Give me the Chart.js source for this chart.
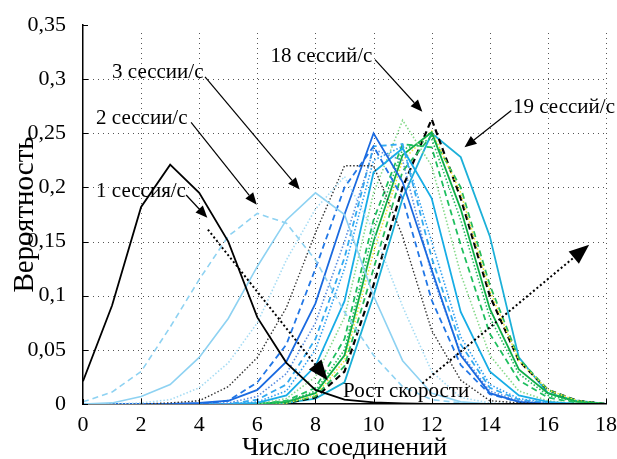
<!DOCTYPE html>
<html lang="ru">
<head>
<meta charset="utf-8">
<script src="https://cdn.jsdelivr.net/npm/chart.js@4.4.1/dist/chart.umd.min.js"></script>
<style>
  html, body { margin: 0; padding: 0; background: #fff; }
</style>
</head>
<body>
<canvas id="chart" width="617" height="459"></canvas>
<script>
// Число соединений (ось X)
const connections = [0, 1, 2, 3, 4, 5, 6, 7, 8, 9, 10, 11, 12, 13, 14, 15, 16, 17, 18];

// Распределения вероятности для интенсивности 1..19 сессий/с
const s1  = [0.021, 0.091, 0.182, 0.221, 0.195, 0.150, 0.080, 0.038, 0.013, 0.004, 0.0015, 0.0005, 0, 0, 0, 0, 0, 0, 0];
const s2  = [0.002, 0.011, 0.030, 0.071, 0.115, 0.155, 0.176, 0.167, 0.133, 0.085, 0.045, 0.016, 0.004, 0.001, 0, 0, 0, 0, 0];
const s3  = [0, 0.001, 0.007, 0.018, 0.043, 0.079, 0.127, 0.170, 0.195, 0.175, 0.100, 0.040, 0.010, 0.002, 0, 0, 0, 0, 0];
const s4  = [0, 0, 0.001, 0.004, 0.015, 0.038, 0.075, 0.133, 0.180, 0.210, 0.160, 0.090, 0.030, 0.006, 0.001, 0, 0, 0, 0];
const s5  = [0, 0, 0, 0.001, 0.003, 0.016, 0.043, 0.089, 0.158, 0.220, 0.220, 0.155, 0.068, 0.022, 0.003, 0.001, 0, 0, 0];
const s6  = [0, 0, 0, 0, 0.001, 0.003, 0.013, 0.039, 0.093, 0.175, 0.250, 0.205, 0.124, 0.045, 0.010, 0.002, 0, 0, 0];
const s7  = [0, 0, 0, 0, 0, 0.003, 0.020, 0.055, 0.125, 0.200, 0.238, 0.190, 0.096, 0.036, 0.009, 0.002, 0, 0, 0];
const s8  = [0, 0, 0, 0, 0, 0.001, 0.007, 0.028, 0.075, 0.150, 0.235, 0.225, 0.120, 0.047, 0.012, 0.003, 0, 0, 0];
const s9  = [0, 0, 0, 0, 0, 0, 0.004, 0.018, 0.060, 0.135, 0.238, 0.240, 0.135, 0.055, 0.015, 0.004, 0.001, 0, 0];
const s10 = [0, 0, 0, 0, 0, 0, 0.002, 0.012, 0.050, 0.125, 0.225, 0.238, 0.150, 0.062, 0.018, 0.005, 0.001, 0, 0];
const s11 = [0, 0, 0, 0, 0, 0, 0.001, 0.008, 0.035, 0.095, 0.214, 0.236, 0.190, 0.085, 0.030, 0.008, 0.002, 0, 0];
const s12 = [0, 0, 0, 0, 0, 0, 0, 0.005, 0.025, 0.080, 0.195, 0.262, 0.220, 0.120, 0.045, 0.012, 0.003, 0, 0];
const s13 = [0, 0, 0, 0, 0, 0, 0, 0.003, 0.015, 0.060, 0.170, 0.240, 0.237, 0.147, 0.065, 0.022, 0.006, 0.001, 0];
const s14 = [0, 0, 0, 0, 0, 0, 0, 0.002, 0.012, 0.050, 0.160, 0.235, 0.245, 0.170, 0.080, 0.028, 0.008, 0.002, 0];
const s15 = [0, 0, 0, 0, 0, 0, 0, 0.002, 0.010, 0.045, 0.150, 0.230, 0.251, 0.180, 0.088, 0.032, 0.010, 0.002, 0];
const s16 = [0, 0, 0, 0, 0, 0, 0, 0.001, 0.008, 0.040, 0.140, 0.225, 0.252, 0.195, 0.105, 0.040, 0.013, 0.003, 0];
const s17 = [0, 0, 0, 0, 0, 0, 0, 0.001, 0.007, 0.035, 0.125, 0.215, 0.248, 0.200, 0.110, 0.042, 0.013, 0.003, 0];
const s18 = [0, 0, 0, 0, 0, 0, 0, 0.001, 0.006, 0.030, 0.110, 0.200, 0.263, 0.190, 0.100, 0.040, 0.013, 0.003, 0];
const s19 = [0, 0, 0, 0, 0, 0, 0, 0.001, 0.005, 0.020, 0.100, 0.190, 0.250, 0.228, 0.155, 0.043, 0.010, 0.003, 0];

const series = [s1, s2, s3, s4, s5, s6, s7, s8, s9, s10, s11, s12, s13, s14, s15, s16, s17, s18, s19];

// Линии: цвет и тип штриха для каждой кривой
const SOLID = [], DASH = [6, 4], DOT = [1.5, 2];
const lineStyles = [
  { color: '#000000', dash: SOLID, width: 1.8 },
  { color: '#8ed2f2', dash: DASH,  width: 1.6 },
  { color: '#8ed2f2', dash: SOLID, width: 1.6 },
  { color: '#a6dcf4', dash: DOT,   width: 1.6 },
  { color: '#333333', dash: DOT,   width: 1.4 },
  { color: '#1a6ae0', dash: SOLID, width: 1.8 },
  { color: '#2277e6', dash: DASH,  width: 1.8 },
  { color: '#5b8ee0', dash: DOT,   width: 1.6 },
  { color: '#33aaf0', dash: DASH,  width: 1.8 },
  { color: '#2f9ff0', dash: DOT,   width: 1.6 },
  { color: '#17ade6', dash: SOLID, width: 1.8 },
  { color: '#86d98a', dash: DOT,   width: 1.6 },
  { color: '#1fbf5f', dash: DASH,  width: 1.8 },
  { color: '#22b85a', dash: DOT,   width: 1.6 },
  { color: '#0fae48', dash: SOLID, width: 1.8 },
  { color: '#eee23a', dash: DOT,   width: 1.6 },
  { color: '#25bb5d', dash: DASH,  width: 1.8 },
  { color: '#000000', dash: DASH,  width: 2.2 },
  { color: '#1cb0d8', dash: SOLID, width: 1.8 }
];

// Подписи со стрелками (в координатах данных)
const callouts = [
  { text: '1 сессия/с',  at: [0.45, 0.196],  from: [3.55, 0.193],  to: [4.28, 0.172] },
  { text: '2 сессии/с',  at: [0.45, 0.264],  from: [3.72, 0.260],  to: [5.98, 0.184] },
  { text: '3 сессии/с',  at: [1.0, 0.306],   from: [4.20, 0.302],  to: [7.46, 0.198] },
  { text: '18 сессий/с', at: [6.45, 0.321],  from: [10.05, 0.318], to: [11.68, 0.270] },
  { text: '19 сессий/с', at: [14.8, 0.274],  from: [14.74, 0.271], to: [13.13, 0.237] }
];
const speedLabel = { text: 'Рост скорости', at: [8.95, 0.012] };
const speedArrows = [
  { from: [4.30, 0.161], to: [8.42, 0.022] },
  { from: [11.68, 0.019], to: [17.42, 0.147] }
];

const yGrid = [0.05, 0.1, 0.15, 0.2, 0.25, 0.3];
const xGrid = [2, 4, 6, 8, 10, 12, 14, 16, 18];

const FONT = '"Liberation Serif", "Times New Roman", serif';

function arrow(ctx, x1, y1, x2, y2, headLen, headHalf, dashed, lw) {
  const ang = Math.atan2(y2 - y1, x2 - x1);
  const bx = x2 - headLen * Math.cos(ang);
  const by = y2 - headLen * Math.sin(ang);
  ctx.save();
  ctx.strokeStyle = '#000';
  ctx.fillStyle = '#000';
  ctx.lineWidth = lw;
  ctx.setLineDash(dashed ? [2, 2.5] : []);
  ctx.beginPath();
  ctx.moveTo(x1, y1);
  ctx.lineTo(bx, by);
  ctx.stroke();
  ctx.setLineDash([]);
  ctx.beginPath();
  ctx.moveTo(x2, y2);
  ctx.lineTo(bx - headHalf * Math.sin(ang), by + headHalf * Math.cos(ang));
  ctx.lineTo(bx + headHalf * Math.sin(ang), by - headHalf * Math.cos(ang));
  ctx.closePath();
  ctx.fill();
  ctx.restore();
}

const decorPlugin = {
  id: 'decor',
  // точечная сетка под кривыми
  beforeDatasetsDraw(chart) {
    const { ctx, chartArea: area, scales: { x, y } } = chart;
    ctx.save();
    ctx.strokeStyle = '#555';
    ctx.lineWidth = 1;
    ctx.setLineDash([1, 4]);
    yGrid.forEach(v => {
      const yy = Math.round(y.getPixelForValue(v)) + 0.5;
      ctx.beginPath(); ctx.moveTo(area.left, yy); ctx.lineTo(area.right, yy); ctx.stroke();
    });
    xGrid.forEach(v => {
      const xx = Math.round(x.getPixelForValue(v)) + 0.5;
      ctx.beginPath(); ctx.moveTo(xx, area.bottom); ctx.lineTo(xx, area.top + 6); ctx.stroke();
    });
    ctx.restore();
  },
  afterDraw(chart) {
    const { ctx, chartArea: area, scales: { x, y } } = chart;
    const px = p => [x.getPixelForValue(p[0]), y.getPixelForValue(p[1])];
    ctx.save();

    // короткие засечки внутрь области графика
    ctx.strokeStyle = '#000';
    ctx.lineWidth = 1;
    y.ticks.forEach(t => {
      const yy = Math.round(y.getPixelForValue(t.value)) + 0.5;
      ctx.beginPath(); ctx.moveTo(area.left, yy); ctx.lineTo(area.left + 5, yy); ctx.stroke();
    });
    x.ticks.forEach(t => {
      const xx = Math.round(x.getPixelForValue(t.value)) + 0.5;
      ctx.beginPath(); ctx.moveTo(xx, area.bottom); ctx.lineTo(xx, area.bottom - 5); ctx.stroke();
    });

    ctx.font = '21px ' + FONT;
    ctx.fillStyle = '#000';
    ctx.textBaseline = 'middle';
    ctx.textAlign = 'left';
    callouts.forEach(c => {
      const [tx, ty] = px(c.at);
      ctx.fillText(c.text, tx, ty);
      const [ax, ay] = px(c.from);
      const [bx, by] = px(c.to);
      arrow(ctx, ax, ay, bx, by, 12, 5, false, 1.2);
    });

    speedArrows.forEach(a => {
      const [ax, ay] = px(a.from);
      const [bx, by] = px(a.to);
      arrow(ctx, ax, ay, bx, by, 20, 8, true, 2);
    });
    const [sx, sy] = px(speedLabel.at);
    ctx.fillText(speedLabel.text, sx, sy);

    ctx.restore();
  }
};

const fmt = v => {
  const s = Number(v).toFixed(2).replace(/0+$/, '').replace(/\.$/, '');
  return s.replace('.', ',');
};

new Chart(document.getElementById('chart'), {
  type: 'line',
  data: {
    datasets: series.map((vals, i) => ({
      label: (i + 1) + ' сессий/с',
      data: vals.map((v, k) => ({ x: connections[k], y: v })),
      borderColor: lineStyles[i].color,
      borderDash: lineStyles[i].dash,
      borderWidth: lineStyles[i].width,
      pointRadius: 0,
      tension: 0,
      fill: false
    }))
  },
  options: {
    responsive: false,
    animation: false,
    devicePixelRatio: 1,
    layout: { padding: { top: 25, right: 10, left: 0, bottom: 0 } },
    plugins: { legend: { display: false }, tooltip: { enabled: false } },
    scales: {
      x: {
        type: 'linear',
        min: 0,
        max: 18,
        afterFit: s => { s.height = 55; },
        ticks: { stepSize: 2, padding: 0, color: '#000', font: { family: FONT, size: 22 } },
        grid: { display: false },
        border: { display: true, color: '#000', width: 1.5 },
        title: {
          display: true,
          text: 'Число соединений',
          color: '#000',
          font: { family: FONT, size: 26, lineHeight: 0.8 },
          padding: { top: 0, bottom: 0 }
        }
      },
      y: {
        min: 0,
        max: 0.35,
        afterFit: s => { s.width = 83; },
        ticks: {
          stepSize: 0.05,
          padding: 9,
          color: '#000',
          font: { family: FONT, size: 22 },
          callback: v => fmt(v)
        },
        grid: { display: false },
        border: { display: true, color: '#000', width: 1.5 },
        title: {
          display: true,
          text: 'Вероятность',
          color: '#000',
          font: { family: FONT, size: 29, lineHeight: 1 },
          padding: { top: 11, bottom: 0 }
        }
      }
    }
  },
  plugins: [decorPlugin]
});
</script>
</body>
</html>
